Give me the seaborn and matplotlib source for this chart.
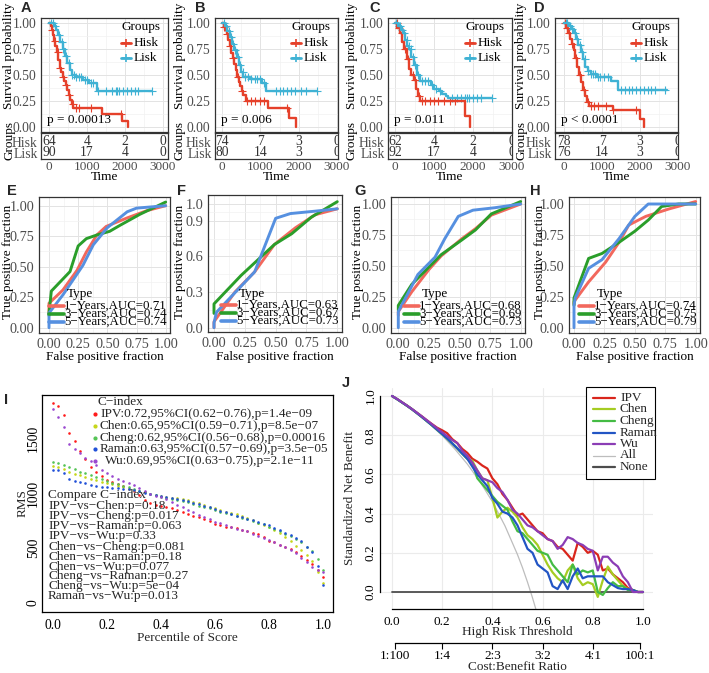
import numpy as np
import matplotlib
matplotlib.use("Agg")
import matplotlib.pyplot as plt
import seaborn as sns
from matplotlib.lines import Line2D
from matplotlib.patches import Rectangle

# ============================ DATA ============================
# ---- Kaplan-Meier (A-D): step times (days) and survival ----
A_HISK_T = [0, 50, 80, 110, 140, 170, 200, 240, 280, 320, 360, 400, 440, 480, 520, 560, 600, 640, 1386, 1912, 2070]
A_HISK_S = [1.0, 0.97, 0.93, 0.88, 0.83, 0.78, 0.72, 0.64, 0.57, 0.53, 0.48, 0.44, 0.40, 0.36, 0.31, 0.26, 0.22, 0.186, 0.125, 0.058, 0.0]
A_LISK_T = [0, 120, 180, 240, 300, 360, 420, 480, 540, 600, 700, 900, 1060, 1250, 2700]
A_LISK_S = [1.0, 0.97, 0.93, 0.88, 0.82, 0.75, 0.68, 0.62, 0.55, 0.50, 0.48, 0.45, 0.42, 0.35, 0.35]
A_HISK_CENS = [90, 150, 230, 300, 380, 460, 520, 620, 700, 800, 1100, 1900]
A_LISK_CENS = [60, 110, 150, 250, 330, 380, 450, 520, 600, 650, 720, 780, 850, 950, 1000, 1100, 1150,
               1300, 1500, 1650, 1750, 1800, 1850, 1950, 2050, 2150, 2250, 2350, 2700]

B_HISK_T = [0, 40, 80, 120, 160, 200, 240, 280, 320, 360, 400, 440, 480, 520, 560, 620, 1200, 1736, 1920]
B_HISK_S = [1.0, 0.96, 0.93, 0.89, 0.84, 0.78, 0.71, 0.66, 0.61, 0.55, 0.48, 0.43, 0.39, 0.35, 0.31, 0.25, 0.18, 0.085, 0.0]
B_LISK_T = [0, 80, 140, 200, 260, 320, 380, 440, 500, 560, 720, 1040, 1160, 2480]
B_LISK_S = [1.0, 0.97, 0.92, 0.87, 0.80, 0.74, 0.67, 0.60, 0.53, 0.48, 0.46, 0.42, 0.35, 0.35]
B_HISK_CENS = [60, 130, 210, 300, 420, 520, 660, 750, 850, 1000, 1100, 1700]
B_LISK_CENS = [50, 100, 170, 230, 290, 350, 410, 470, 540, 600, 680, 760, 850, 900, 1000, 1100,
               1400, 1500, 1600, 1700, 1800, 1900, 2050, 2200, 2480]

C_HISK_T = [0, 60, 120, 180, 240, 300, 360, 420, 480, 540, 600, 640, 1800, 1935]
C_HISK_S = [1.0, 0.95, 0.90, 0.82, 0.75, 0.65, 0.56, 0.50, 0.45, 0.37, 0.30, 0.25, 0.11, 0.0]
C_LISK_T = [0, 80, 150, 200, 260, 320, 360, 420, 480, 560, 640, 920, 1000, 1120, 1200, 1320, 1360, 2480]
C_LISK_S = [1.0, 0.97, 0.93, 0.90, 0.84, 0.78, 0.75, 0.67, 0.60, 0.50, 0.44, 0.40, 0.37, 0.35, 0.32, 0.30, 0.28, 0.28]
C_HISK_CENS = [40, 100, 170, 260, 340, 450, 520, 620, 700, 780, 900, 1000, 1100, 1250, 1400, 1550]
C_LISK_CENS = [30, 90, 130, 180, 240, 300, 350, 400, 460, 520, 600, 700, 780, 850, 950, 1050, 1150,
               1450, 1600, 1700, 1800, 1850, 1900, 2000, 2100, 2200, 2480]

D_HISK_T = [0, 50, 100, 150, 200, 250, 300, 350, 400, 450, 500, 550, 600, 660, 1280, 1990, 2100]
D_HISK_S = [1.0, 0.95, 0.90, 0.85, 0.80, 0.74, 0.66, 0.58, 0.50, 0.43, 0.36, 0.30, 0.24, 0.20, 0.16, 0.08, 0.0]
D_LISK_T = [0, 120, 200, 260, 320, 380, 440, 500, 560, 620, 700, 880, 1240, 1420, 2700]
D_LISK_S = [1.0, 0.97, 0.94, 0.90, 0.85, 0.79, 0.72, 0.65, 0.58, 0.54, 0.51, 0.48, 0.44, 0.36, 0.36]
D_HISK_CENS = [30, 80, 130, 220, 320, 420, 520, 620, 700, 800, 900, 1100, 1300, 1900]
D_LISK_CENS = [40, 90, 150, 200, 280, 350, 420, 480, 550, 620, 700, 760, 820, 900, 960, 1050, 1150,
               1500, 1600, 1700, 1800, 1900, 2000, 2100, 2200, 2300, 2400, 2650]

GROUPS = ["Hisk", "Lisk"]
RISK_TIMES = [0, 1000, 2000, 3000]
A_RISK_HISK = [64, 4, 2, 0]
A_RISK_LISK = [90, 17, 4, 0]
B_RISK_HISK = [74, 7, 3, 0]
B_RISK_LISK = [80, 14, 3, 0]
C_RISK_HISK = [62, 4, 2, 0]
C_RISK_LISK = [92, 17, 4, 0]
D_RISK_HISK = [78, 7, 3, 0]
D_RISK_LISK = [76, 14, 3, 0]
PVALS = ["p = 0.00013", "p = 0.006", "p = 0.011", "p < 0.0001"]

# ---- time-dependent ROC (E-H) ----
ROC_TYPES = ["1\u2212Years", "3\u2212Years", "5\u2212Years"]
E_1Y_FPR = [0.0, 0.0, 0.12, 0.24, 0.32, 0.41, 0.49, 0.67, 0.84, 1.0]
E_1Y_TPR = [0.12, 0.20, 0.31, 0.47, 0.62, 0.76, 0.83, 0.90, 0.96, 1.0]
E_3Y_FPR = [0.0, 0.0, 0.02, 0.18, 0.25, 0.32, 0.41, 0.52, 0.61, 0.78, 1.0]
E_3Y_TPR = [0.10, 0.12, 0.30, 0.46, 0.67, 0.73, 0.76, 0.79, 0.84, 0.93, 1.03]
E_5Y_FPR = [0.0, 0.0, 0.12, 0.29, 0.38, 0.50, 0.67, 0.75, 1.0]
E_5Y_TPR = [0.0, 0.12, 0.27, 0.51, 0.68, 0.82, 0.95, 0.98, 1.0]
E_AUC = ["0.71", "0.74", "0.74"]

F_1Y_FPR = [0.0, 0.0, 0.17, 0.33, 0.49, 0.66, 0.82, 1.0]
F_1Y_TPR = [0.0, 0.05, 0.30, 0.47, 0.70, 0.84, 0.95, 1.0]
F_3Y_FPR = [0.0, 0.0, 0.22, 0.49, 0.63, 0.79, 1.0]
F_3Y_TPR = [0.12, 0.20, 0.44, 0.70, 0.79, 0.93, 1.06]
F_5Y_FPR = [0.0, 0.0, 0.02, 0.33, 0.50, 0.62, 0.82, 1.0]
F_5Y_TPR = [0.0, 0.04, 0.13, 0.47, 0.92, 0.96, 0.98, 1.0]
F_AUC = ["0.63", "0.67", "0.73"]

G_1Y_FPR = [0.0, 0.0, 0.11, 0.25, 0.35, 0.52, 0.63, 0.76, 1.0]
G_1Y_TPR = [0.10, 0.13, 0.29, 0.47, 0.58, 0.72, 0.80, 0.91, 1.0]
G_3Y_FPR = [0.0, 0.0, 0.11, 0.25, 0.35, 0.52, 0.63, 0.76, 1.0]
G_3Y_TPR = [0.14, 0.18, 0.35, 0.49, 0.59, 0.71, 0.79, 0.92, 1.02]
G_5Y_FPR = [0.0, 0.0, 0.16, 0.30, 0.38, 0.49, 0.61, 0.79, 1.0]
G_5Y_TPR = [0.0, 0.13, 0.43, 0.57, 0.72, 0.90, 0.95, 0.97, 1.0]
G_AUC = ["0.68", "0.69", "0.73"]

H_1Y_FPR = [0.0, 0.0, 0.12, 0.26, 0.37, 0.45, 0.59, 0.78, 1.0]
H_1Y_TPR = [0.19, 0.21, 0.37, 0.53, 0.69, 0.83, 0.90, 0.96, 1.02]
H_3Y_FPR = [0.0, 0.0, 0.12, 0.23, 0.37, 0.50, 0.61, 0.72, 0.86, 1.0]
H_3Y_TPR = [0.18, 0.24, 0.56, 0.60, 0.69, 0.78, 0.87, 0.98, 1.0, 1.0]
H_5Y_FPR = [0.0, 0.0, 0.01, 0.12, 0.23, 0.37, 0.50, 0.61, 1.0]
H_5Y_TPR = [0.0, 0.18, 0.24, 0.48, 0.55, 0.72, 0.90, 1.0, 1.0]
H_AUC = ["0.74", "0.75", "0.79"]

# ---- RMS curves (I) ----
MODELS = ["IPV", "Chen", "Cheng", "Raman", "Wu"]
PCT = [0.00, 0.02, 0.04, 0.06, 0.08, 0.10, 0.12, 0.14, 0.16, 0.18,
       0.20, 0.22, 0.24, 0.26, 0.28, 0.30, 0.32, 0.34, 0.36, 0.38,
       0.40, 0.42, 0.44, 0.46, 0.48, 0.50, 0.52, 0.54, 0.56, 0.58,
       0.60, 0.62, 0.64, 0.66, 0.68, 0.70, 0.72, 0.74, 0.76, 0.78,
       0.80, 0.82, 0.84, 0.86, 0.88, 0.90, 0.92, 0.94, 0.96, 0.98, 1.00]
RMS_IPV = [1820, 1795, 1710, 1550, 1470, 1380, 1305, 1240, 1195, 1150,
           1120, 1100, 1078, 1060, 1040, 1015, 985, 940, 910, 895,
           880, 870, 860, 845, 825, 805, 795, 780, 765, 745,
           720, 705, 695, 690, 680, 665, 650, 635, 625, 600,
           565, 550, 530, 510, 490, 460, 430, 395, 350, 300, 240]
RMS_CHEN = [1250, 1235, 1215, 1195, 1175, 1160, 1145, 1130, 1115, 1100,
            1090, 1080, 1065, 1055, 1040, 1030, 1015, 1005, 995, 985,
            975, 965, 955, 950, 945, 935, 920, 905, 890, 875,
            860, 845, 830, 815, 805, 790, 770, 750, 730, 710,
            690, 665, 640, 600, 560, 520, 480, 440, 380, 280, 180]
RMS_CHENG = [1285, 1270, 1255, 1240, 1215, 1195, 1180, 1160, 1145, 1125,
             1110, 1095, 1080, 1065, 1050, 1035, 1020, 1005, 990, 980,
             965, 955, 945, 935, 925, 915, 900, 885, 870, 860,
             845, 830, 820, 805, 790, 775, 760, 745, 730, 715,
             695, 675, 655, 630, 605, 580, 550, 510, 470, 400, 300]
RMS_RAMAN = [1210, 1205, 1180, 1125, 1110, 1100, 1090, 1075, 1065, 1058,
             1052, 1048, 1043, 1040, 1035, 1028, 1015, 1000, 990, 980,
             970, 962, 955, 945, 935, 925, 912, 900, 885, 870,
             855, 840, 825, 810, 795, 780, 765, 750, 735, 720,
             705, 685, 665, 640, 615, 590, 560, 510, 460, 340, 160]
RMS_WU = [1760, 1690, 1600, 1450, 1400, 1360, 1320, 1290, 1255, 1210,
          1180, 1155, 1130, 1110, 1095, 1075, 1045, 1015, 995, 975,
          960, 945, 920, 895, 870, 845, 825, 800, 780, 760,
          740, 725, 710, 690, 675, 660, 650, 630, 610, 590,
          570, 555, 530, 510, 480, 450, 410, 370, 330, 300, 280]
CINDEX_LABELS = ["IPV:0.72,95%CI(0.62\u22120.76),p=1.4e\u221209",
                 "Chen:0.65,95%CI(0.59\u22120.71),p=8.5e\u221207",
                 "Cheng:0.62,95%CI(0.56\u22120.68),p=0.00016",
                 "Raman:0.63,95%CI(0.57\u22120.69),p=3.5e\u221205",
                 "Wu:0.69,95%CI(0.63\u22120.75),p=2.1e\u221211"]
COMPARE_LABELS = ["IPV\u2212vs\u2212Chen:p=0.18", "IPV\u2212vs\u2212Cheng:p=0.017",
                  "IPV\u2212vs\u2212Raman:p=0.063", "IPV\u2212vs\u2212Wu:p=0.33",
                  "Chen\u2212vs\u2212Cheng:p=0.081", "Chen\u2212vs\u2212Raman:p=0.18",
                  "Chen\u2212vs\u2212Wu:p=0.077", "Cheng\u2212vs\u2212Raman:p=0.27",
                  "Cheng\u2212vs\u2212Wu:p=5e\u221204", "Raman\u2212vs\u2212Wu:p=0.013"]

# ---- decision curves (J) ----
THRESH = PCT
NB_IPV = [1.0, 0.985, 0.968, 0.951, 0.933, 0.914, 0.895, 0.875, 0.856, 0.838, 0.825, 0.81, 0.78, 0.76, 0.73, 0.71,
          0.68, 0.665, 0.645, 0.63, 0.58, 0.55, 0.50, 0.47, 0.43, 0.39, 0.40, 0.37, 0.34, 0.31, 0.30, 0.27, 0.26,
          0.23, 0.22, 0.19, 0.16, 0.25, 0.23, 0.20, 0.21, 0.19, 0.11, 0.12, 0.09, 0.07, 0.05, 0.02, 0.01, 0.0, 0.0]
NB_CHEN = [1.0, 0.984, 0.967, 0.95, 0.932, 0.912, 0.892, 0.871, 0.85, 0.828, 0.806, 0.783, 0.758, 0.733, 0.706, 0.68,
           0.67, 0.62, 0.58, 0.57, 0.48, 0.38, 0.41, 0.43, 0.41, 0.38, 0.33, 0.29, 0.27, 0.24, 0.19, 0.14, 0.10,
           0.07, 0.05, 0.11, 0.14, 0.07, 0.035, 0.05, 0.04, -0.025, 0.06, 0.13, 0.09, 0.06, 0.03, 0.015, 0.01, 0.0, 0.0]
NB_CHENG = [1.0, 0.984, 0.967, 0.95, 0.932, 0.912, 0.892, 0.871, 0.85, 0.828, 0.806, 0.783, 0.758, 0.733, 0.706, 0.68,
            0.66, 0.58, 0.55, 0.52, 0.49, 0.46, 0.44, 0.42, 0.36, 0.31, 0.30, 0.27, 0.24, 0.21, 0.20, 0.19, 0.14,
            0.11, 0.08, 0.05, 0.14, 0.09, 0.11, 0.10, 0.11, 0.0, -0.015, 0.02, 0.05, 0.03, 0.03, 0.01, 0.01, 0.0, 0.0]
NB_RAMAN = [1.0, 0.984, 0.967, 0.95, 0.932, 0.912, 0.892, 0.871, 0.85, 0.828, 0.806, 0.783, 0.758, 0.733, 0.706, 0.68,
            0.64, 0.60, 0.57, 0.54, 0.48, 0.45, 0.41, 0.40, 0.38, 0.34, 0.28, 0.22, 0.20, 0.14, 0.12, 0.10, 0.03,
            0.015, 0.06, 0.015, 0.08, 0.12, 0.07, 0.08, 0.08, 0.08, 0.08, 0.05, 0.035, 0.02, 0.015, 0.015, 0.01, 0.0, 0.0]
NB_WU = [1.0, 0.985, 0.968, 0.951, 0.933, 0.914, 0.895, 0.875, 0.855, 0.835, 0.815, 0.795, 0.775, 0.76, 0.72, 0.695,
         0.66, 0.62, 0.58, 0.57, 0.56, 0.53, 0.51, 0.47, 0.42, 0.40, 0.37, 0.34, 0.33, 0.31, 0.29, 0.27, 0.26,
         0.22, 0.24, 0.28, 0.27, 0.25, 0.24, 0.22, 0.21, 0.11, 0.18, 0.18, 0.15, 0.13, 0.08, 0.05, 0.0, 0.0, 0.0]
ALL_T = [0.0, 0.05, 0.10, 0.15, 0.20, 0.25, 0.30, 0.35, 0.40, 0.45, 0.50, 0.52, 0.54, 0.56, 0.58]
ALL_NB = [1.0, 0.957, 0.910, 0.857, 0.798, 0.730, 0.653, 0.564, 0.461, 0.338, 0.191, 0.124, 0.050, -0.030, -0.117]
NONE_T = [0.0, 1.0]
NONE_NB = [0.0, 0.0]
COST_POS = [0.01, 0.2, 0.4, 0.6, 0.8, 0.99]
COST_LABELS = ["1:100", "1:4", "2:3", "3:2", "4:1", "100:1"]

# ============================ STYLE ============================
sns.set_style("white")
SERIF = ["Liberation Serif", "DejaVu Serif"]
plt.rcParams["font.family"] = SERIF
plt.rcParams["axes.unicode_minus"] = True
FS = 9.5
KM_RED, KM_CYAN = "#E5402A", "#3FB2D4"
ROC_COLS = ["#F2685D", "#2A9E2A", "#5690E0"]
I_COLS = {"IPV": "#FF1A1A", "Chen": "#C6D61A", "Cheng": "#55C455", "Raman": "#2050D8", "Wu": "#9A48D0"}
J_COLS = {"IPV": "#D9261C", "Chen": "#A5CC22", "Cheng": "#44BB44", "Raman": "#2255C4", "Wu": "#8B3DB5"}
ALL_COL, NONE_COL = "#BDBDBD", "#4D4D4D"

W, H = 709, 673
fig = plt.figure(figsize=(W / 100, H / 100), dpi=100)


def add_ax(l, t, r, b):
    return fig.add_axes([l / W, 1 - b / H, (r - l) / W, (b - t) / H])


def ftext(x, y, s, **kw):
    kw.setdefault("fontsize", FS)
    kw.setdefault("ha", "center")
    kw.setdefault("va", "center")
    fig.text(x / W, 1 - y / H, s, **kw)


def fline(x0, x1, y, **kw):
    fig.add_artist(Line2D([x0 / W, x1 / W], [1 - y / H, 1 - y / H], transform=fig.transFigure, **kw))


def letter(x, y, s):
    ftext(x, y, s, family=["Liberation Sans", "DejaVu Sans"], weight="bold", fontsize=10.5)


def gg_style(ax, xlim, ylim, xmaj, xmin, ymaj, ymin, lsize=FS):
    ax.set_xlim(xlim)
    ax.set_ylim(ylim)
    ax.set_xticks(xmaj)
    ax.set_xticks(xmin, minor=True)
    ax.set_yticks(ymaj)
    ax.set_yticks(ymin, minor=True)
    ax.grid(True, which="major", color="#E3E3E3", lw=0.7)
    ax.grid(True, which="minor", color="#F2F2F2", lw=0.5)
    ax.set_axisbelow(True)
    for s in ax.spines.values():
        s.set_visible(True)
        s.set_color("#333333")
        s.set_linewidth(0.9)
    ax.tick_params(which="major", direction="out", length=2.5, width=0.7, color="#333333",
                   labelsize=lsize, labelcolor="#4D4D4D", pad=1.0)
    ax.tick_params(which="minor", length=0)


# ============================ KM PANELS ============================
KM_SPECS = [
    ("A", (41, 18, 168, 132), 49, 163, (A_HISK_T, A_HISK_S, A_HISK_CENS), (A_LISK_T, A_LISK_S, A_LISK_CENS),
     (A_RISK_HISK, A_RISK_LISK), PVALS[0], 9, 26),
    ("B", (215, 18, 338, 132), 222, 337, (B_HISK_T, B_HISK_S, B_HISK_CENS), (B_LISK_T, B_LISK_S, B_LISK_CENS),
     (B_RISK_HISK, B_RISK_LISK), PVALS[1], 180, 200),
    ("C", (388, 18, 512, 132), 395, 512, (C_HISK_T, C_HISK_S, C_HISK_CENS), (C_LISK_T, C_LISK_S, C_LISK_CENS),
     (C_RISK_HISK, C_RISK_LISK), PVALS[2], 352, 375),
    ("D", (555, 18, 678, 132), 564, 678, (D_HISK_T, D_HISK_S, D_HISK_CENS), (D_LISK_T, D_LISK_S, D_LISK_CENS),
     (D_RISK_HISK, D_RISK_LISK), PVALS[3], 521, 539),
]

for (lab, box, t0px, t3px, hisk, lisk, risk, ptxt, ylab_x, let_x) in KM_SPECS:
    l, t, r, b = box
    pp = 3000.0 / (t3px - t0px)
    xlim = ((l - t0px) * pp, (r - t0px) * pp)
    ax = add_ax(l, t, r, b)
    gg_style(ax, xlim, (-0.048, 1.048), RISK_TIMES, [500, 1500, 2500],
             [0, 0.25, 0.5, 0.75, 1.0], [0.125, 0.375, 0.625, 0.875], lsize=9.8)
    ax.set_yticklabels(["0.00", "0.25", "0.50", "0.75", "1.00"])
    ax.tick_params(axis="x", labelbottom=False)
    for (T, S, C), col in [(hisk, KM_RED), (lisk, KM_CYAN)]:
        sns.lineplot(x=T, y=S, ax=ax, color=col, lw=1.7, drawstyle="steps-post",
                     estimator=None, sort=False, legend=False)
        cy = [S[int(np.searchsorted(T, c, side="right")) - 1] for c in C]
        sns.scatterplot(x=C, y=cy, ax=ax, marker="+", color=col, s=26, linewidth=0.8, legend=False)
    ax.set_xlabel("")
    ax.set_ylabel("")
    # p-value
    ftext(l + 6, b - 12, ptxt, ha="left", color="black")
    # legend
    ftext(r - 47, 27, "Groups", ha="left", color="black")
    for yy, col, name in [(43, KM_RED, GROUPS[0]), (58, KM_CYAN, GROUPS[1])]:
        fline(r - 47, r - 37, yy, color=col, lw=2.0)
        fig.add_artist(Line2D([(r - 42) / W], [1 - yy / H], transform=fig.transFigure, marker="+",
                              color=col, markersize=6, mew=1.2, lw=0))
        ftext(r - 34, yy, name, ha="left", color="black")
    # risk table
    axr = add_ax(l, 133, r, 159)
    axr.set_facecolor("white")
    axr.set_xlim(xlim)
    axr.set_ylim(-0.55, 1.82)
    for s in axr.spines.values():
        s.set_visible(True)
        s.set_color("#333333")
        s.set_linewidth(0.9)
    axr.set_xticks(RISK_TIMES)
    axr.set_xticklabels([str(v) for v in RISK_TIMES])
    axr.set_yticks([1, 0])
    axr.set_yticklabels(GROUPS)
    axr.tick_params(direction="out", length=2, width=0.7, color="#333333", labelsize=9.8,
                    labelcolor="#4D4D4D", pad=0.5)
    axr.tick_params(axis="x", length=1.5, pad=0, labelsize=9.5)
    for row, vals in zip([1, 0], risk):
        for tt, v in zip(RISK_TIMES, vals):
            axr.text(tt, row, str(v), ha="center", va="center", fontsize=9.8, color="#333333", clip_on=True)
    ftext((l + r) / 2, 177, "Time", color="black")
    ftext(ylab_x, 56, "Survival probability", rotation=90, color="black")
    ftext(ylab_x, 140, "Groups", rotation=90, color="black")
    letter(let_x, 8, lab)

# ============================ ROC PANELS ============================
ROC_SPECS = [
    ("E", (39, 197, 170, 333), (49, 165.7), (327.7, 205.7),
     [(E_1Y_FPR, E_1Y_TPR), (E_3Y_FPR, E_3Y_TPR), (E_5Y_FPR, E_5Y_TPR)], E_AUC, 8, 12,
     [0, 0.25, 0.5, 0.75, 1.0], ["0.00", "0.25", "0.50", "0.75", "1.00"]),
    ("F", (208, 195, 342, 332), (214, 337.3), (327.7, 208.8),
     [(F_1Y_FPR, F_1Y_TPR), (F_3Y_FPR, F_3Y_TPR), (F_5Y_FPR, F_5Y_TPR)], F_AUC, 180, 182,
     [0, 0.3, 0.6, 0.9, 1.04], ["0.0", "0.3", "0.6", "0.9", "1.0"]),
    ("G", (391, 197, 525, 333), (398.3, 520.7), (327.7, 204),
     [(G_1Y_FPR, G_1Y_TPR), (G_3Y_FPR, G_3Y_TPR), (G_5Y_FPR, G_5Y_TPR)], G_AUC, 358, 360,
     [0, 0.25, 0.5, 0.75, 1.0], ["0.00", "0.25", "0.50", "0.75", "1.00"]),
    ("H", (569, 197, 700, 333), (574, 695.7), (327.7, 204),
     [(H_1Y_FPR, H_1Y_TPR), (H_3Y_FPR, H_3Y_TPR), (H_5Y_FPR, H_5Y_TPR)], H_AUC, 540, 535,
     [0, 0.25, 0.5, 0.75, 1.0], ["0.00", "0.25", "0.50", "0.75", "1.00"]),
]

for (lab, box, (x0p, x1p), (y0p, y1p), curves, aucs, ylab_x, let_x, yt, ytl) in ROC_SPECS:
    l, t, r, b = box
    xlim = ((l - x0p) / (x1p - x0p), (r - x0p) / (x1p - x0p))
    ylim = ((b - y0p) / (y1p - y0p), (t - y0p) / (y1p - y0p))
    ax = add_ax(l, t, r, b)
    ymin = [(yt[i] + yt[i + 1]) / 2 for i in range(len(yt) - 1)]
    gg_style(ax, xlim, ylim, [0, 0.25, 0.5, 0.75, 1.0], [0.125, 0.375, 0.625, 0.875], yt, ymin, lsize=10.3)
    ax.set_xticklabels(["0.00", "0.25", "0.50", "0.75", "1.00"])
    ax.set_yticklabels(ytl)
    for (fpr, tpr), col in zip(curves, ROC_COLS):
        sns.lineplot(x=fpr, y=tpr, ax=ax, color=col, lw=2.1, estimator=None, sort=False, legend=False)
    ax.set_xlabel("")
    ax.set_ylabel("")
    # legend
    ftext(r - 103, b - 38.5, "Type", ha="left", color="black")
    for k, (yy, col) in enumerate(zip([b - 27, b - 19, b - 11], ROC_COLS)):
        fline(r - 121, r - 106, yy, color=col, lw=2.6)
        ftext(r - 106, yy, ROC_TYPES[k] + ",AUC=" + aucs[k], ha="left", color="black", fontsize=9.3)
    ftext((l + r) / 2, 357, "False positive fraction", color="black")
    ftext(ylab_x, 262, "True positive fraction", rotation=90, color="black")
    letter(let_x, 191, lab)

# ============================ PANEL I ============================
axI = add_ax(42, 395, 333, 612)
I_SERIES = [RMS_IPV, RMS_CHEN, RMS_CHENG, RMS_RAMAN, RMS_WU]
for name, vals in zip(MODELS, I_SERIES):
    sns.scatterplot(x=PCT, y=vals, ax=axI, color=I_COLS[name], s=3.5, marker="o", linewidth=0, legend=False)
axI.set_xlim(-0.0407, 1.037)
axI.set_ylim(-82, 1891)
axI.set_facecolor("white")
for s in axI.spines.values():
    s.set_visible(True)
    s.set_color("black")
    s.set_linewidth(0.9)
axI.set_xticks([0, 0.2, 0.4, 0.6, 0.8, 1.0])
axI.set_xticklabels(["0.0", "0.2", "0.4", "0.6", "0.8", "1.0"])
axI.set_yticks([0, 500, 1000, 1500])
axI.set_yticklabels(["0", "500", "1000", "1500"], rotation=90, va="center")
axI.tick_params(direction="out", length=4, width=0.8, color="black", labelsize=9.8, labelcolor="black", pad=1)
axI.tick_params(axis="y", pad=-2.5)
axI.set_xlabel("")
axI.set_ylabel("")
ftext(187, 638, "Percentile of Score")
ftext(23, 503, "RMS", rotation=90)
ftext(120, 402, "C\u2212index")
for k, (name, yy) in enumerate(zip(MODELS, [414, 426, 437.5, 449, 461])):
    fig.add_artist(Line2D([95 / W], [1 - yy / H], transform=fig.transFigure, marker="o",
                          color=I_COLS[name], markersize=2, lw=0))
    xoff = 105 if name == "Wu" else 100
    ftext(xoff, yy, CINDEX_LABELS[k], ha="left")
ftext(48, 495, "Compare C\u2212index", ha="left")
for k, yy in enumerate([505, 516, 525.7, 535.7, 546.7, 556.7, 566.7, 576, 585.3, 595]):
    ftext(48, yy + 0.5, COMPARE_LABELS[k], ha="left")
letter(6, 400, "I")

# ============================ PANEL J ============================
axJ = add_ax(380, 388, 653, 609)
axJ.set_facecolor("white")
axJ.set_xlim(-0.0478, 1.04)
axJ.set_ylim(-0.0867, 1.0408)
axJ.set_xticks([0, 0.2, 0.4, 0.6, 0.8, 1.0])
axJ.set_xticklabels(["0.0", "0.2", "0.4", "0.6", "0.8", "1.0"])
axJ.set_yticks([0, 0.2, 0.4, 0.6, 0.8, 1.0])
axJ.set_yticklabels(["0.0", "0.2", "0.4", "0.6", "0.8", "1.0"], rotation=90, va="center")
axJ.grid(True, color="#EBEBEB", lw=0.8)
axJ.set_axisbelow(True)
sns.lineplot(x=ALL_T, y=ALL_NB, ax=axJ, color=ALL_COL, lw=0.9, estimator=None, sort=False, legend=False)
sns.lineplot(x=NONE_T, y=NONE_NB, ax=axJ, color=NONE_COL, lw=1.3, estimator=None, sort=False, legend=False)
J_SERIES = [NB_IPV, NB_CHEN, NB_CHENG, NB_RAMAN, NB_WU]
for name, vals in zip(MODELS, J_SERIES):
    sns.lineplot(x=THRESH, y=vals, ax=axJ, color=J_COLS[name], lw=1.6, estimator=None, sort=False, legend=False)
axJ.set_xlabel("")
axJ.set_ylabel("")
axJ.spines["top"].set_visible(False)
axJ.spines["right"].set_visible(False)
for sp in ["left", "bottom"]:
    axJ.spines[sp].set_visible(True)
    axJ.spines[sp].set_color("black")
    axJ.spines[sp].set_linewidth(0.9)
    axJ.spines[sp].set_bounds(0, 1)
axJ.tick_params(direction="out", length=4, width=0.8, color="black", labelsize=9.5, labelcolor="black", pad=1.0)
axJ.tick_params(axis="y", pad=-1.5)
sec = axJ.secondary_xaxis((609 - 643) / (609 - 388))
sec.set_xticks(COST_POS)
sec.set_xticklabels(COST_LABELS)
sec.spines["bottom"].set_bounds(0.01, 0.99)
sec.spines["bottom"].set_color("black")
sec.spines["bottom"].set_linewidth(0.9)
sec.tick_params(direction="out", length=4, width=0.8, color="black", labelsize=9.5, labelcolor="black", pad=1.0)
ftext(517, 632, "High Risk Threshold")
ftext(517, 667, "Cost:Benefit Ratio")
ftext(350, 498, "Standardized Net Benefit", rotation=90)
# legend
fig.add_artist(Rectangle((586 / W, 1 - 479 / H), (655 - 586) / W, (479 - 387) / H, transform=fig.transFigure,
                         facecolor="white", edgecolor="black", lw=0.8))
J_LEG = MODELS + ["All", "None"]
J_LEG_COLS = [J_COLS[m] for m in MODELS] + [ALL_COL, NONE_COL]
for k, yy in enumerate([398, 409.5, 421, 432.5, 444, 455.5, 467]):
    fline(593, 615, yy, color=J_LEG_COLS[k], lw=0.9 if J_LEG[k] == "All" else 1.6)
    ftext(620, yy, J_LEG[k], ha="left")
letter(346, 383, "J")

fig.savefig("out.png", dpi=100)
